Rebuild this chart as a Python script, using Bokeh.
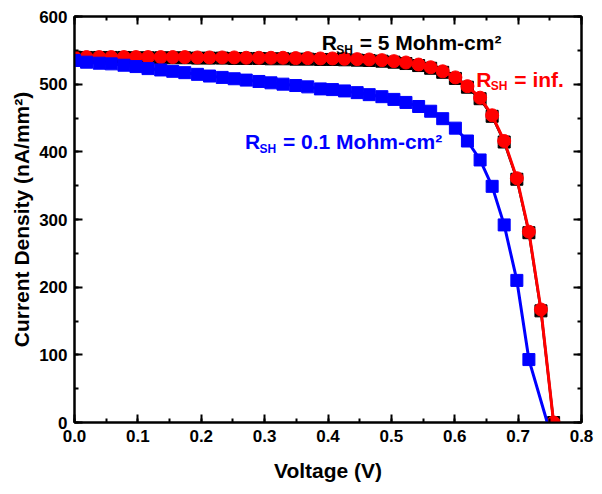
from bokeh.plotting import figure
from bokeh.models import Range1d, LinearAxis, Label, NumeralTickFormatter, SingleIntervalTicker
from bokeh.embed import file_html
from bokeh.resources import INLINE

# ---- data ----
voltage = [0.000, 0.019, 0.039, 0.058, 0.078, 0.097, 0.116, 0.136, 0.155, 0.174,
           0.194, 0.213, 0.233, 0.252, 0.271, 0.291, 0.310, 0.329, 0.349, 0.368,
           0.388, 0.407, 0.426, 0.446, 0.465, 0.485, 0.504, 0.523, 0.543, 0.562,
           0.581, 0.601, 0.620, 0.640, 0.659, 0.678, 0.698, 0.717, 0.736, 0.756]

j_inf = [540, 540, 540, 540, 540, 540, 540, 540, 540, 540,
         539.5, 539.5, 539.5, 539.5, 539, 539, 539, 539, 538.5, 538.5,
         538, 538, 537.5, 537, 536.5, 535.5, 534, 532, 529, 525,
         519, 510, 497, 480, 454, 416, 361, 282, 167, 0]

j_5M = [540, 539.5, 539.5, 539.5, 539.5, 539, 539, 539, 539, 539,
        538.5, 538.5, 538.5, 538, 538, 538, 537.5, 537.5, 537, 537,
        536.5, 536.5, 536, 535.5, 535, 534, 532.5, 530.5, 527.5, 523.5,
        517.5, 508.5, 495.5, 478.5, 452.5, 414.5, 359.5, 280.5, 165, 0]

j_01M = [535, 532.5, 531, 530, 528, 526, 523, 521, 519, 517,
         514.5, 512, 510, 508, 506, 504, 502, 500, 498, 496,
         493, 492, 490, 487.5, 484.5, 481.5, 477.5, 473, 467, 460,
         449, 435, 416, 388, 349, 292, 210, 93]
v_01M_line = voltage[:38] + [0.746]
j_01M_line = j_01M + [0]

x_ticks_major = 0.1
y_ticks_major = 100

FONT = "Liberation Sans"

p = figure(width=598, height=485, output_backend="svg", toolbar_location=None,
           x_range=Range1d(0, 0.8), y_range=Range1d(0, 600),
           min_border_left=74, min_border_right=17, min_border_top=16, min_border_bottom=63)

p.xgrid.visible = False
p.ygrid.visible = False
p.outline_line_color = "black"
p.outline_line_width = 2
p.background_fill_color = "white"
p.border_fill_color = "white"

p.xaxis.ticker = SingleIntervalTicker(interval=x_ticks_major, num_minor_ticks=2)
p.yaxis.ticker = SingleIntervalTicker(interval=y_ticks_major, num_minor_ticks=2)
p.xaxis.formatter = NumeralTickFormatter(format="0.0")

for ax in [p.xaxis[0], p.yaxis[0]]:
    ax.axis_line_width = 2
    ax.major_tick_line_width = 2
    ax.minor_tick_line_width = 2
    ax.major_tick_in = 8
    ax.major_tick_out = 0
    ax.minor_tick_in = 4
    ax.minor_tick_out = 0
    ax.major_label_text_font = FONT
    ax.major_label_text_font_style = "bold"
    ax.major_label_text_font_size = "17px"
    ax.major_label_text_color = "black"
    ax.axis_label_text_font = FONT
    ax.axis_label_text_font_style = "bold"
    ax.axis_label_text_font_size = "21px"
    ax.axis_label_text_color = "black"

p.xaxis.axis_label = "Voltage (V)"
p.yaxis.axis_label = "Current Density (nA/mm²)"
p.xaxis.major_label_standoff = 7
p.yaxis.major_label_standoff = 7
p.xaxis.axis_label_standoff = 14
p.yaxis.axis_label_standoff = 3

# mirrored axes (top / right), ticks inside, no labels drawn
for loc, interval in [("above", x_ticks_major), ("right", y_ticks_major)]:
    ax = LinearAxis(ticker=SingleIntervalTicker(interval=interval, num_minor_ticks=2))
    ax.axis_line_width = 2
    ax.major_tick_line_width = 2
    ax.minor_tick_line_width = 2
    ax.major_tick_in = 8
    ax.major_tick_out = 0
    ax.minor_tick_in = 4
    ax.minor_tick_out = 0
    ax.major_label_text_font_size = "1px"
    ax.major_label_text_color = None
    ax.major_label_standoff = 0
    p.add_layout(ax, loc)

# curves
p.line(voltage, j_5M, line_color="black", line_width=2.5)
p.scatter(voltage, j_5M, marker="square", size=12, fill_color="black", line_color="black")
p.line(voltage, j_inf, line_color="#ff0000", line_width=3)
p.scatter(voltage, j_inf, marker="circle", size=13, fill_color="#ff0000", line_color="#ff0000")
p.line(v_01M_line, j_01M_line, line_color="#0000ff", line_width=3)
p.scatter(voltage[:38], j_01M, marker="square", size=12, fill_color="#0000ff", line_color="#0000ff")

# annotations
def rsh_label(x, y, rest, color):
    common = dict(text_font=FONT, text_font_style="bold", text_color=color,
                  text_baseline="alphabetic", text_align="left")
    p.add_layout(Label(x=x, y=y, text="R", text_font_size="21px", **common))
    p.add_layout(Label(x=x, y=y, x_offset=14.5, y_offset=-7, text="SH",
                       text_font_size="12px", **common))
    p.add_layout(Label(x=x, y=y, x_offset=38, text=rest, text_font_size="21px", **common))

rsh_label(0.390, 561, "= 5 Mohm-cm²", "black")
rsh_label(0.634, 507, "= inf.", "#ff0000")
rsh_label(0.269, 415, "= 0.1 Mohm-cm²", "#0000ff")

open("out.html", "w").write(file_html(p, INLINE))
